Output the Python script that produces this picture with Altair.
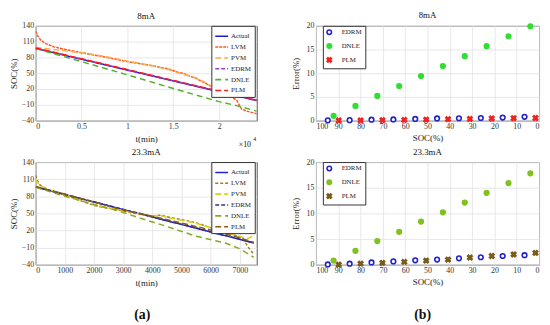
import altair as alt
import pandas as pd

FONT = "Liberation Serif"

# ---------------- (a) top : 8 mA, time in units of 10^4 min ----------------
series_names = ["Actual", "LVM", "PVM", "EDRM", "DNLE", "PLM"]

t8_actual = [0, 2.41]
soc8_actual = [97, -2]

t8_lvm = [0, 0.02, 0.05, 0.1, 0.2, 0.3, 0.5, 0.75, 1.0, 1.25, 1.45, 1.55, 1.6, 1.75, 1.85, 2.0, 2.1, 2.19, 2.245, 2.3, 2.41]
soc8_lvm = [130, 122, 114, 107, 100, 96, 89, 81, 72, 65, 58, 52, 50, 40, 31, 17, 8, -1, -18, -22, -27]

t8_pvm = [0, 0.1, 0.2, 0.35, 0.5, 0.75, 1.0, 1.25, 1.45, 1.55, 1.75, 1.85, 2.0, 2.1, 2.2, 2.3, 2.41]
soc8_pvm = [99, 97, 95, 92, 89, 82, 73, 65, 57, 51, 41, 32, 18, 8, 9, 12, 17]

t8_edrm = [0, 2.41]
soc8_edrm = [97.5, -1.5]

t8_dnle = [0, 0.5, 1.0, 1.5, 2.0, 2.2, 2.41]
soc8_dnle = [97, 72, 47, 21, -4, -12, -22]

t8_plm = [0, 2.41]
soc8_plm = [98, -1]

# ---------------- (a) bottom : 23.3 mA, time in min ----------------
t23_actual = [0, 7480]
soc23_actual = [96, -2]

t23_lvm = [0, 50, 150, 300, 500, 1000, 1500, 2000, 2500, 3000, 3500, 4000, 4300, 4500, 5000, 5300, 5600, 6000, 6500, 7000, 7150, 7300, 7480]
soc23_lvm = [117, 108, 100, 95, 90, 82, 73, 64, 59, 54, 49, 45, 47, 44, 39, 36, 32, 25, 17, 9, 2, -10, -22]

t23_pvm = [0, 50, 150, 300, 500, 1000, 1500, 2000, 2500, 3000, 3500, 4000, 4300, 4500, 5000, 5300, 5600, 6000, 6500, 7000, 7300, 7480]
soc23_pvm = [110, 105, 99, 95, 91, 83, 74, 66, 60, 55, 50, 45, 46, 43, 38, 35, 31, 25, 17, 9, 6, 12]

t23_edrm = [0, 7480]
soc23_edrm = [96.5, -1.5]

t23_dnle = [0, 500, 1000, 1500, 2000, 2800, 3500, 4500, 5500, 6500, 7000, 7480]
soc23_dnle = [96, 88, 80, 73, 65, 55, 43, 27, 10, -2, -12, -27]

t23_plm = [0, 1000, 2000, 3000, 4000, 5000, 6000, 7000, 7480]
soc23_plm = [97, 84, 70, 56, 45, 33, 21, 7, -1]

# ---------------- (b) error vs SOC ----------------
soc_edrm = [94.7, 84.9, 75.1, 65.3, 55.5, 45.7, 35.9, 26.1, 16.3, 6.5]
soc_dnle = [92.1, 82.3, 72.5, 62.7, 52.9, 43.1, 33.3, 23.5, 13.7, 3.9]
soc_plm = [89.8, 80.0, 70.2, 60.4, 50.6, 40.8, 31.0, 21.2, 11.4, 1.6]

err8_edrm = [0.05, 0.1, 0.2, 0.25, 0.35, 0.45, 0.5, 0.55, 0.65, 0.8]
err8_dnle = [1.0, 3.1, 5.2, 7.3, 9.4, 11.5, 13.6, 15.7, 17.8, 19.9]
err8_plm = [0.02, 0.05, 0.1, 0.15, 0.2, 0.3, 0.35, 0.45, 0.5, 0.55]

err23_edrm = [0.05, 0.2, 0.45, 0.65, 0.85, 1.0, 1.25, 1.45, 1.7, 1.85]
err23_dnle = [0.8, 2.7, 4.6, 6.4, 8.4, 10.2, 12.1, 14.0, 15.9, 17.8]
err23_plm = [0.0, 0.2, 0.35, 0.55, 0.8, 1.0, 1.4, 1.7, 2.0, 2.3]

soc_ticks = [-40, -10, 20, 50, 80, 110, 140]

# ---------------- helpers ----------------
def lines_df(parts):
    rows = []
    for name, ts, vs in parts:
        for i, (t, v) in enumerate(zip(ts, vs)):
            rows.append({"t": t, "soc": v, "series": name, "i": i})
    return pd.DataFrame(rows)


def text_layer(txt, x, y, size=8, weight="normal", align="center", baseline="middle"):
    return alt.Chart(pd.DataFrame({"a": [0]})).mark_text(
        text=txt, font=FONT, fontSize=size, fontWeight=weight, color="#111",
        align=align, baseline=baseline,
    ).encode(x=alt.value(x), y=alt.value(y))


def ptitle(txt):
    return alt.Title(txt, font=FONT, fontSize=9, fontWeight="normal", offset=1, color="#111")


def line_panel(df, colors, dashes, title, xdom, xvals, xfmt, w, h, extra):
    legend = alt.Legend(
        title=None, orient="none", legendX=w - 46, legendY=0,
        symbolType="stroke", symbolSize=169, symbolStrokeWidth=1.6,
        labelFont=FONT, labelFontSize=7, labelColor="#222", labelOffset=2,
        rowPadding=-5, padding=3, strokeColor="#333", fillColor="white",
        cornerRadius=0,
    )
    base = alt.Chart(df).mark_line(strokeWidth=1.5, clip=True).encode(
        x=alt.X("t:Q", title="t(min)",
                scale=alt.Scale(domain=xdom, nice=False, zero=False),
                axis=alt.Axis(values=xvals, format=xfmt, titlePadding=4)),
        y=alt.Y("soc:Q", title="SOC(%)",
                scale=alt.Scale(domain=[-40, 140], nice=False),
                axis=alt.Axis(values=soc_ticks, titlePadding=3)),
        color=alt.Color("series:N", sort=series_names,
                        scale=alt.Scale(domain=series_names, range=colors),
                        legend=legend),
        strokeDash=alt.StrokeDash("series:N", sort=series_names,
                                  scale=alt.Scale(domain=series_names, range=dashes),
                                  legend=legend),
        order="i:Q",
    )
    return alt.layer(base, *extra).properties(width=w, height=h, title=ptitle(title))


def err_panel(parts, colors, fills, title, w, h, extra):
    rows = []
    for name, xs, ys in parts:
        for x, y in zip(xs, ys):
            rows.append({"soc": x, "err": y, "series": name})
    df = pd.DataFrame(rows)
    names = ["EDRM", "DNLE", "PLM"]
    xshape = "M-1,-0.6L-0.6,-1L0,-0.4L0.6,-1L1,-0.6L0.4,0L1,0.6L0.6,1L0,0.4L-0.6,1L-1,0.6L-0.4,0Z"
    legend = alt.Legend(
        title=None, orient="none", legendX=7, legendY=0,
        labelFont=FONT, labelFontSize=7, labelColor="#222", labelOffset=9,
        rowPadding=3, padding=3, strokeColor="#333", fillColor="white",
        symbolSize=20, symbolStrokeWidth=1.6, cornerRadius=0, labelLimit=60,
    )
    pts = alt.Chart(df).mark_point(size=22, strokeWidth=1.6, opacity=1, filled=False).encode(
        x=alt.X("soc:Q", title="SOC(%)",
                scale=alt.Scale(domain=[0, 100], reverse=True, nice=False),
                axis=alt.Axis(values=list(range(0, 101, 10)), titlePadding=3)),
        y=alt.Y("err:Q", title="Error(%)",
                scale=alt.Scale(domain=[0, 20], nice=False),
                axis=alt.Axis(values=[0, 5, 10, 15, 20], titlePadding=6)),
        stroke=alt.Stroke("series:N", sort=names,
                          scale=alt.Scale(domain=names, range=colors), legend=legend),
        fill=alt.Fill("series:N", sort=names,
                      scale=alt.Scale(domain=names, range=fills), legend=legend),
        shape=alt.Shape("series:N", sort=names,
                        scale=alt.Scale(domain=names, range=["circle", "circle", xshape]),
                        legend=legend),
    )
    return alt.layer(pts, *extra).properties(width=w, height=h, title=ptitle(title))


# ---------------- build panels ----------------
colors8 = ["#1c1ccc", "#ff5522", "#ffaa44", "#9a40c0", "#55b030", "#ff1a1a"]
dashes8 = [[1, 0], [3, 1], [6, 3], [4, 2], [6, 4], [6, 3]]
colors23 = ["#2020d8", "#a87c14", "#d8d020", "#303090", "#88a828", "#8a5a10"]
dashes23 = [[1, 0], [3, 2], [6, 3], [4, 2], [6, 4], [6, 3]]

df8 = lines_df([
    ("Actual", t8_actual, soc8_actual), ("LVM", t8_lvm, soc8_lvm),
    ("PVM", t8_pvm, soc8_pvm), ("EDRM", t8_edrm, soc8_edrm),
    ("DNLE", t8_dnle, soc8_dnle), ("PLM", t8_plm, soc8_plm),
])
df23 = lines_df([
    ("Actual", t23_actual, soc23_actual), ("LVM", t23_lvm, soc23_lvm),
    ("PVM", t23_pvm, soc23_pvm), ("EDRM", t23_edrm, soc23_edrm),
    ("DNLE", t23_dnle, soc23_dnle), ("PLM", t23_plm, soc23_plm),
])

WL, WR, HT, HB = 224, 226, 96, 104

tl = line_panel(df8, colors8, dashes8, "8mA", [0, 2.41], [0, 0.5, 1, 1.5, 2], "~g", WL, HT,
                [text_layer("\u00d710", 212, 25 + HT, size=8),
                 text_layer("4", 222, 19 + HT, size=6)])
bl = line_panel(df23, colors23, dashes23, "23.3mA", [0, 7580], list(range(0, 7001, 1000)), "d", WL, HB,
                [text_layer("(a)", 108, 51 + HB, size=14, weight="bold")])

tr = err_panel([("EDRM", soc_edrm, err8_edrm), ("DNLE", soc_dnle, err8_dnle), ("PLM", soc_plm, err8_plm)],
               ["#2222cc", "#33dd33", "#ee2222"], ["#ffffff", "#33dd33", "#ee2222"], "8mA", WR, HT, [])
br = err_panel([("EDRM", soc_edrm, err23_edrm), ("DNLE", soc_dnle, err23_dnle), ("PLM", soc_plm, err23_plm)],
               ["#2222cc", "#80c020", "#7a5a1a"], ["#ffffff", "#80c020", "#7a5a1a"], "23.3mA", WR, HB,
               [text_layer("(b)", 108, 51 + HB, size=14, weight="bold")])

chart = alt.concat(
    tl, tr, bl, br, columns=2,
    spacing={"row": 42, "column": 60}, bounds="flush", align="each",
).resolve_scale(
    color="independent", strokeDash="independent", stroke="independent",
    fill="independent", shape="independent", x="independent", y="independent",
).resolve_legend(
    color="independent", strokeDash="independent", stroke="independent",
    fill="independent", shape="independent",
).properties(padding=0, background="white").configure_view(
    stroke="#555", strokeWidth=1,
).configure_axis(
    labelFont=FONT, titleFont=FONT, labelFontSize=8, titleFontSize=9,
    titleFontWeight="normal", labelColor="#333", titleColor="#222",
    grid=True, gridColor="#e2e2e2", gridWidth=0.8, ticks=False, domain=False,
    labelPadding=2,
)

chart.save("out.html", embed_options={"renderer": "svg", "actions": False})
